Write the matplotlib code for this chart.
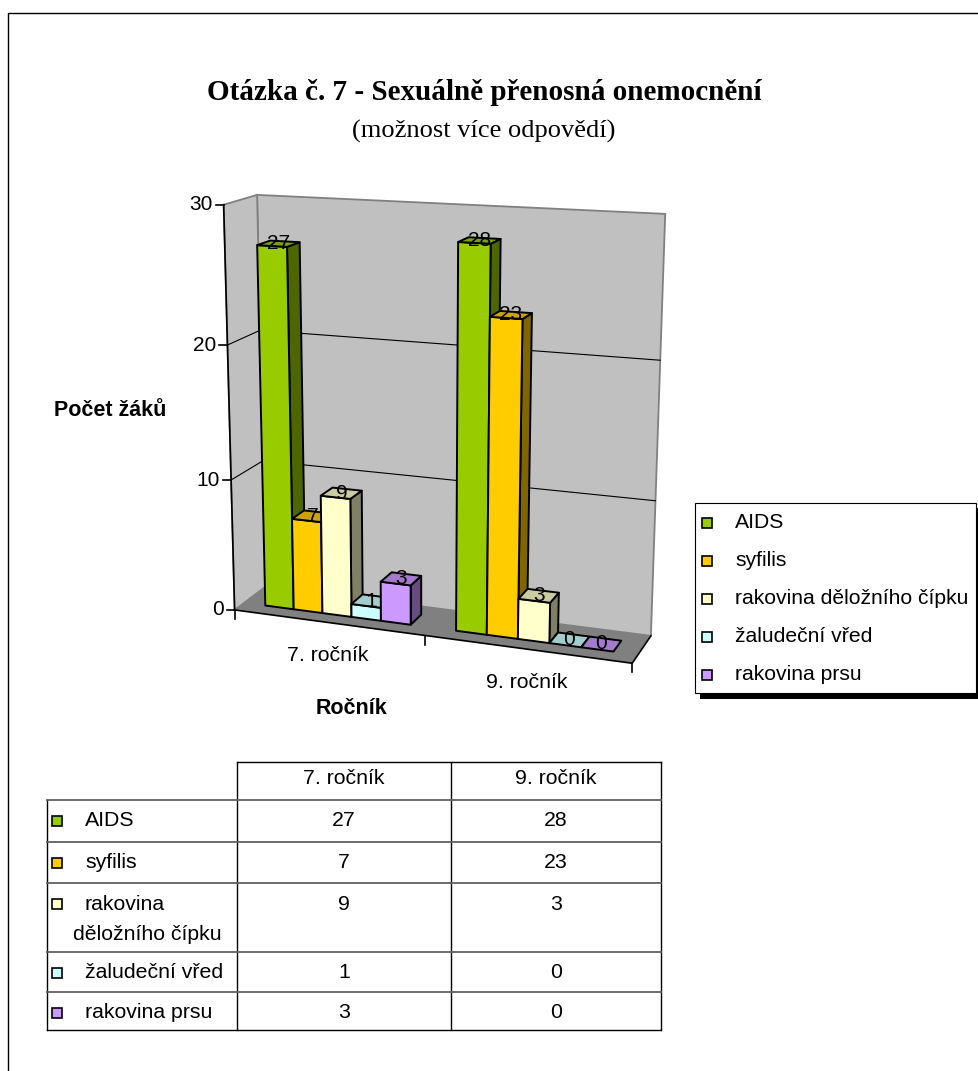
import numpy as np
import matplotlib.pyplot as plt
from matplotlib.patches import Polygon, Rectangle

categories = ["7. ročník", "9. ročník"]
series = ["AIDS", "syfilis", "rakovina děložního čípku", "žaludeční vřed", "rakovina prsu"]
table_rows = ["AIDS", "syfilis", "rakovina\nděložního čípku", "žaludeční vřed", "rakovina prsu"]
values = {
    "7. ročník": [27, 7, 9, 1, 3],
    "9. ročník": [28, 23, 3, 0, 0],
}
colors = ["#99CC00", "#FFCC00", "#FFFFCC", "#CCFFFF", "#CC99FF"]
y_ticks = [0, 10, 20, 30]
y_max = 30

SANS = "Liberation Sans"
SERIF = "Liberation Serif"
FS = 15.3

# where the corners of the plot box land on the page
# (x: 0..1 across categories, y: 0..1 of the value range, z: 0 front .. 1 back)
box_3d = [(0, 0, 0), (1, 0, 0), (0, 0, 1), (1, 0, 1), (0, 1, 0), (0, 1, 1), (1, 1, 1),
          (0, 1/3, 0), (0, 2/3, 0), (0, 1/3, 1), (0, 2/3, 1), (1, 1/3, 1), (1, 2/3, 1)]
box_px = [(235, 609), (632, 664), (265, 587), (652, 635), (223, 204), (259, 194), (665, 214),
          (232, 480), (227, 346), (263, 460), (259, 332), (655, 501), (660, 360)]


def fit_camera(pts3, pts2):
    p2 = np.array(pts2, float)
    c = p2.mean(0)
    s = p2.std()
    n2 = (p2 - c) / s
    rows = []
    for (X, Y, Z), (u, v) in zip(pts3, n2):
        rows.append([X, Y, Z, 1, 0, 0, 0, 0, -u*X, -u*Y, -u*Z, -u])
        rows.append([0, 0, 0, 0, X, Y, Z, 1, -v*X, -v*Y, -v*Z, -v])
    _, _, vt = np.linalg.svd(np.array(rows))
    return vt[-1].reshape(3, 4), c, s


P, cen, sc = fit_camera(box_3d, box_px)


def proj(x, val, z):
    h = P @ np.array([x, val / y_max, z, 1.0])
    return cen + sc * h[:2] / h[2]


def shade(hex_color, f):
    r, g, b = [int(hex_color[i:i+2], 16) / 255 for i in (1, 3, 5)]
    return (r*f, g*f, b*f)


fig = plt.figure(figsize=(9.79, 10.71), dpi=100)
ax = fig.add_axes([0, 0, 1, 1])
ax.set_xlim(0, 979)
ax.set_ylim(1071, 0)
ax.axis("off")

# outer frame
ax.plot([8.5, 8.5, 985], [1080, 12.5, 12.5], color="black", lw=1)

# titles
ax.text(484, 92, "Otázka č. 7 - Sexuálně přenosná onemocnění", family=SERIF,
        fontweight="bold", fontsize=21, ha="center", va="center")
ax.text(484, 131, "(možnost více odpovědí)", family=SERIF, fontsize=19,
        ha="center", va="center")

# walls and floor
wall_kw = dict(facecolor="#C0C0C0", edgecolor="#808080", lw=1.3, zorder=1)
ax.add_patch(Polygon([proj(0, 0, 1), proj(1, 0, 1), proj(1, y_max, 1), proj(0, y_max, 1)], **wall_kw))
ax.add_patch(Polygon([proj(0, 0, 0), proj(0, 0, 1), proj(0, y_max, 1), proj(0, y_max, 0)], **wall_kw))
for t in y_ticks[1:-1]:
    pts = np.array([proj(0, t, 0), proj(0, t, 1), proj(1, t, 1)])
    ax.plot(pts[:, 0], pts[:, 1], color="black", lw=0.8, zorder=2)
floor = [proj(0, 0, 0), proj(1, 0, 0), proj(1, 0, 1), proj(0, 0, 1)]
ax.add_patch(Polygon(floor, facecolor="#808080", edgecolor="none", zorder=2))
edge = np.array([proj(0, 0, 0), proj(1, 0, 0), proj(1, 0, 1)])
ax.plot(edge[:, 0], edge[:, 1], color="black", lw=1.2, zorder=2)

# value axis
a = np.array([proj(0, 0, 0), proj(0, y_max, 0)])
ax.plot(a[:, 0], a[:, 1], color="black", lw=1.2, zorder=3)
for t in y_ticks:
    px, py = proj(0, t, 0)
    ax.plot([px - 8, px], [py, py], color="black", lw=1.2, zorder=3)
    ax.text(px - 11, py, str(t), family=SANS, fontsize=15, ha="right", va="center")

# category axis
n_cat = len(categories)
for k in range(n_cat + 1):
    px, py = proj(k / n_cat, 0, 0)
    ax.plot([px, px], [py, py + 9], color="black", lw=1.2, zorder=3)
for k, cat in enumerate(categories):
    px, py = proj((k + 0.5) / n_cat, 0, 0)
    ax.text(px, py + 33, cat, family=SANS, fontsize=FS, ha="center", va="center")

ax.text(110, 411, "Počet žáků", family=SANS, fontweight="bold", fontsize=15.5,
        ha="center", va="center")
ax.text(352, 709, "Ročník", family=SANS, fontweight="bold", fontsize=15.5,
        ha="center", va="center")

# 3d columns, gap width 150 %, gap depth 150 %
cat_w = 1 / n_cat
bar_w = cat_w / (len(series) + 1.5)
z0, z1 = 0.3, 0.7
face_kw = dict(edgecolor="black", lw=1.4, joinstyle="round")
for k, cat in enumerate(categories):
    for i, v in enumerate(values[cat]):
        x0 = k * cat_w + (0.75 + i) * bar_w
        x1 = x0 + bar_w
        col = colors[i]
        top = [proj(x0, v, z0), proj(x1, v, z0), proj(x1, v, z1), proj(x0, v, z1)]
        if v > 0:
            front = [proj(x0, 0, z0), proj(x1, 0, z0), proj(x1, v, z0), proj(x0, v, z0)]
            side = [proj(x1, 0, z0), proj(x1, 0, z1), proj(x1, v, z1), proj(x1, v, z0)]
            ax.add_patch(Polygon(side, facecolor=shade(col, 0.5), zorder=4, **face_kw))
            ax.add_patch(Polygon(front, facecolor=col, zorder=4, **face_kw))
        ax.add_patch(Polygon(top, facecolor=shade(col, 0.8), zorder=4, **face_kw))
        lx, ly = proj(x0 + bar_w / 2, v, 0.5)
        ax.text(lx, ly, str(v), family=SANS, fontsize=15, ha="center", va="center",
                zorder=6)

# legend with drop shadow
ax.add_patch(Rectangle((700, 508), 280, 191, facecolor="black", edgecolor="none", zorder=7))
ax.add_patch(Rectangle((695, 503), 281, 190, facecolor="white", edgecolor="black", lw=0.8, zorder=8))
for i, name in enumerate(series):
    yc = 523 + i * 38
    ax.add_patch(Rectangle((702, yc - 5), 10, 10, facecolor=colors[i], edgecolor="black",
                           lw=1.2, zorder=9))
    ax.text(735, yc, name, family=SANS, fontsize=15.2, ha="left", va="center", zorder=9)

# data table
col_x = [47, 237, 451, 661]
row_y = [800, 842, 883, 952, 992, 1030]
ax.plot([col_x[1], col_x[3]], [762, 762], color="black", lw=1)
for x in col_x[1:]:
    ax.plot([x, x], [762, row_y[-1]], color="black", lw=1)
ax.plot([col_x[0], col_x[0]], [row_y[0], row_y[-1]], color="black", lw=1)
ax.plot([col_x[0], col_x[3]], [row_y[0], row_y[0]], color="#606060", lw=1.3)
ax.plot([col_x[0], col_x[3]], [row_y[-1], row_y[-1]], color="black", lw=1)
for y in row_y[1:-1]:
    ax.plot([col_x[0], col_x[3]], [y, y], color="#606060", lw=1.3)

for k, cat in enumerate(categories):
    ax.text((col_x[k + 1] + col_x[k + 2]) / 2, 779, cat, family=SANS, fontsize=FS,
            ha="center", va="center")
for i, name in enumerate(table_rows):
    yc = row_y[i] + 21
    ax.add_patch(Rectangle((52, yc - 5), 10, 10, facecolor=colors[i], edgecolor="black", lw=1.2))
    lines = name.split("\n")
    ax.text(85, yc, lines[0], family=SANS, fontsize=FS, ha="left", va="center")
    if len(lines) > 1:
        ax.text(73, yc + 31, lines[1], family=SANS, fontsize=FS, ha="left", va="center")
    for k, cat in enumerate(categories):
        ax.text((col_x[k + 1] + col_x[k + 2]) / 2, yc, str(values[cat][i]), family=SANS,
                fontsize=FS, ha="center", va="center")

fig.savefig("out.png", dpi=100)
